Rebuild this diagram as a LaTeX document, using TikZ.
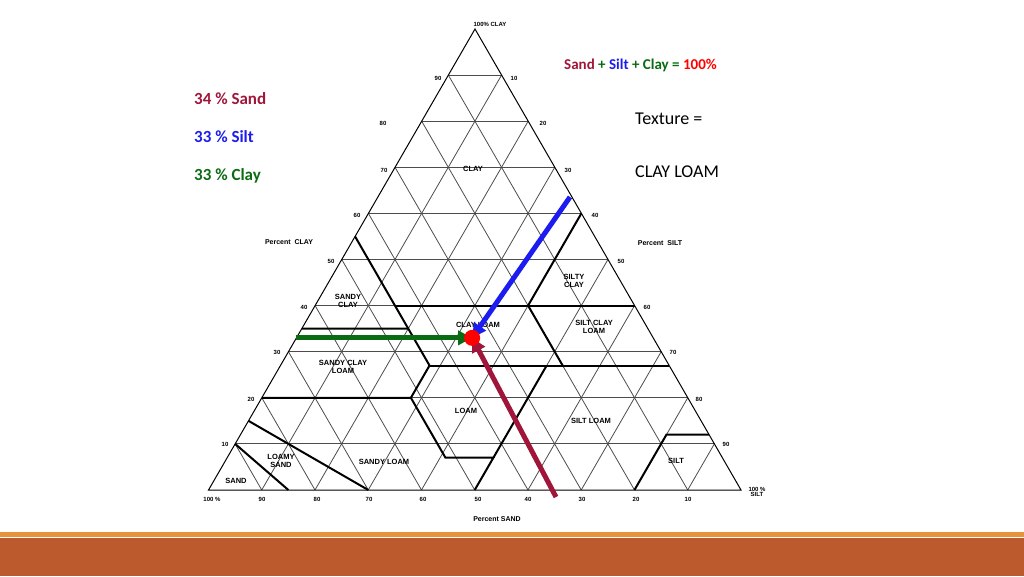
\documentclass[tikz,border=0pt]{standalone}
\usepackage{fontspec}
\setmainfont{Carlito}
\setsansfont{Liberation Sans}
\usetikzlibrary{arrows.meta}
\definecolor{sandred}{HTML}{A0163A}
\definecolor{siltblue}{HTML}{1C1CF0}
\definecolor{claygreen}{HTML}{0B6B12}
\definecolor{barline}{HTML}{E8923A}
\definecolor{barfill}{HTML}{BC5A2E}
\tikzset{
  tick/.style={font=\sffamily\bfseries\fontsize{6}{6}\selectfont, inner sep=0pt},
  region/.style={font=\sffamily\bfseries\fontsize{7.5}{8}\selectfont, align=center, inner sep=0pt},
  grid line/.style={gray!60!black, line width=0.8pt},
  class line/.style={black, line width=2pt},
  pointer/.style={line width=5pt, -{Triangle[length=14pt,width=14pt]}},
  big text/.style={font=\fontsize{17}{20}\selectfont\bfseries, anchor=west, inner sep=0pt},
}
\newcommand{\tp}[3]{(barycentric cs:L=#1*0.01,R=#2*0.01,T=#3*0.01)}
\begin{document}
\begin{tikzpicture}[x=1pt,y=-1pt]
	\useasboundingbox (0,0) rectangle (1024,576);
	\fill[barfill] (0,538) rectangle (1024,576);
	\fill[barline] (0,532) rectangle (1024,537);

	% corners: L = 100% sand, R = 100% silt, T = 100% clay
	\coordinate (L) at (208.5,490);
	\coordinate (R) at (741,490);
	\coordinate (T) at (475,29);

	% grid
	\foreach \v in {10,20,...,90} {
		\pgfmathtruncatemacro{\w}{100-\v}
		\draw[grid line] \tp{\w}{0}{\v} -- \tp{0}{\w}{\v};
		\draw[grid line] \tp{\w}{\v}{0} -- \tp{0}{\v}{\w};
		\draw[grid line] \tp{\v}{\w}{0} -- \tp{\v}{0}{\w};
	}
	\draw[black, line width=1pt] (L) -- (R) -- (T) -- cycle;

	% texture classes
	\draw[class line] \tp{85}{15}{0} -- \tp{90}{0}{10};
	\draw[class line] \tp{70}{30}{0} -- \tp{85}{0}{15};
	\draw[class line] \tp{80}{0}{20} -- \tp{52}{28}{20} -- \tp{52}{41}{7} -- \tp{43}{50}{7} -- \tp{50}{50}{0};
	\draw[class line] \tp{52}{28}{20} -- \tp{45}{28}{27} -- \tp{45}{20}{35} -- \tp{65}{0}{35};
	\draw[class line] \tp{45}{28}{27} -- \tp{20}{53}{27} -- \tp{0}{73}{27};
	\draw[class line] \tp{45}{20}{35} -- \tp{45}{15}{40} -- \tp{45}{0}{55};
	\draw[class line] \tp{45}{15}{40} -- \tp{0}{60}{40};
	\draw[class line] \tp{20}{40}{40} -- \tp{0}{40}{60};
	\draw[class line] \tp{20}{40}{40} -- \tp{20}{53}{27};
	\draw[class line] \tp{23}{50}{27} -- \tp{43}{50}{7};
	\draw[class line] \tp{20}{80}{0} -- \tp{8}{80}{12} -- \tp{0}{88}{12};

	% ticks
	\node[tick] (c100) at (490,24) {100\% CLAY};
	\foreach \n/\x/\y in {90/438/78,80/383/123,70/384/170,60/357/215,50/331/261,40/304/307,30/277/352,20/251/399,10/225/444}
		\node[tick] (cl\n) at (\x,\y) {\n};
	\foreach \n/\x/\y in {10/514/78,20/543/123,30/568/170,40/595/215,50/621/261,60/647/307,70/673/352,80/699/399,90/726/444}
		\node[tick] (si\n) at (\x,\y) {\n};
	\foreach \n/\x in {90/262,80/317,70/369,60/423,50/478,40/528,30/582,20/636,10/688}
		\node[tick] (sa\n) at (\x,499) {\n};
	\node[tick] (sa100) at (212,499) {100 \%};
	\node[tick, align=center] (si100) at (757,492) {100 \%\\[-1pt]SILT};
	\node[tick, font=\sffamily\bfseries\fontsize{7}{7}\selectfont] (psand) at (497,519) {Percent SAND};
	\node[tick, font=\sffamily\bfseries\fontsize{7}{7}\selectfont] (pclay) at (289,242) {Percent\ \ CLAY};
	\node[tick, font=\sffamily\bfseries\fontsize{7}{7}\selectfont] (psilt) at (660,243) {Percent\ \ SILT};

	% class names
	\node[region] (clay) at (473,169) {CLAY};
	\node[region] (siltyclay) at (574,281) {SILTY\\CLAY};
	\node[region] (sandyclay) at (348,301) {SANDY\\CLAY};
	\node[region] (clayloam) at (478,325) {CLAY LOAM};
	\node[region] (siltclayloam) at (594,327) {SILT CLAY\\LOAM};
	\node[region] (sandyclayloam) at (343,367) {SANDY CLAY\\LOAM};
	\node[region] (loam) at (466,411) {LOAM};
	\node[region] (siltloam) at (591,421) {SILT LOAM};
	\node[region] (loamysand) at (281,461) {LOAMY\\SAND};
	\node[region] (sandyloam) at (384,462) {SANDY LOAM};
	\node[region] (silt) at (676,461) {SILT};
	\node[region] (sand) at (236,481) {SAND};

	% sample point
	\path \tp{34}{33}{33} coordinate (P);
	\path \tp{67}{0}{33} coordinate (g0);
	\coordinate (b0) at (570,197);
	\coordinate (r0) at (556,497);
	\draw[pointer, claygreen] (g0) -- (P);
	\draw[pointer, siltblue] (b0) -- (P);
	\draw[pointer, sandred] (r0) -- (P);
	\fill[red] (P) circle (8);

	% texts
	\node[big text, font=\fontsize{15}{18}\selectfont\bfseries] (sum) at (564,65)
		{\textcolor{sandred}{Sand} \textcolor{claygreen}{+} \textcolor{siltblue}{Silt} \textcolor{claygreen}{+ Clay =} \textcolor{red}{100\%}};
	\node[big text] (sandpc) at (194,99) {\textcolor{sandred}{34 \% Sand}};
	\node[big text] (siltpc) at (194,137) {\textcolor{siltblue}{33 \% Silt}};
	\node[big text] (claypc) at (194,176) {\textcolor{claygreen}{33 \% Clay}};
	\node[big text, font=\fontsize{18}{20}\selectfont] (texture) at (635,119) {Texture =};
	\node[big text, font=\fontsize{18}{20}\selectfont] (result) at (635,172) {CLAY LOAM};
\end{tikzpicture}
\end{document}
